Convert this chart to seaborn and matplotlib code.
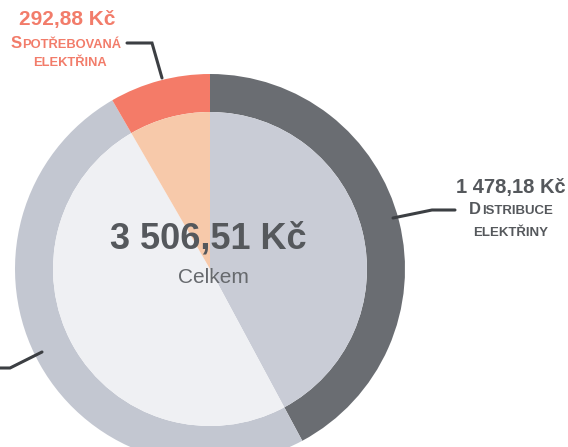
import matplotlib
matplotlib.use("Agg")
import matplotlib.pyplot as plt
import seaborn as sns
from matplotlib.offsetbox import AnnotationBbox, HPacker, TextArea

# amounts in Kč, drawn clockwise from 12 o'clock
parts = ["Distribuce elektřiny", "Ostatní", "Spotřebovaná elektřina"]
amounts = [1478.18, 1735.45, 292.88]
total_label = "3 506,51 Kč"
ring_colors = ["#6a6d72", "#c3c7d1", "#f47b68"]
inner_colors = ["#c9ccd6", "#eff0f3", "#f7c9aa"]

sns.set_theme(style="white")
plt.rcParams["font.family"] = ["Liberation Sans", "DejaVu Sans"]

W, H = 568, 447
fig = plt.figure(figsize=(W / 100, H / 100), dpi=100)
fig.patch.set_facecolor("white")
ax = fig.add_axes([0, 0, 1, 1])

cx, cy = 210, H - 269
r_out, r_in = 195, 157

ax.pie(amounts, colors=ring_colors, startangle=90, counterclock=False,
       radius=r_out, center=(cx, cy), frame=True,
       wedgeprops=dict(width=r_out - r_in, linewidth=0))
ax.pie(amounts, colors=inner_colors, startangle=90, counterclock=False,
       radius=r_in, center=(cx, cy), frame=True,
       wedgeprops=dict(linewidth=0))
ax.set_xlim(0, W)
ax.set_ylim(0, H)
ax.set_aspect("equal")
ax.axis("off")

orange = "#f27c6a"
grey = "#55585c"
line_c = "#3c3f43"


def Y(py):
    return H - py


# centre
ax.text(208, Y(248), total_label, ha="center", va="baseline",
        fontsize=26, fontweight="bold", color=grey)
ax.text(213, Y(283), "Celkem", ha="center", va="baseline",
        fontsize=15, color="#66696d")


def small_caps(x, y, first, rest, big, small, color):
    box = HPacker(children=[
        TextArea(first, textprops=dict(fontsize=big, fontweight="bold", color=color)),
        TextArea(rest, textprops=dict(fontsize=small, fontweight="bold", color=color)),
    ], align="baseline", pad=0, sep=0.5)
    ab = AnnotationBbox(box, (x, y), xycoords="data", frameon=False,
                        box_alignment=(0.5, 0.5), pad=0)
    ax.add_artist(ab)


# spotřebovaná elektřina
ax.text(67, Y(25), "292,88 Kč", ha="center", va="baseline",
        fontsize=15, fontweight="bold", color=orange)
small_caps(66, Y(44), "S", "POTŘEBOVANÁ", 12, 9.3, orange)
ax.text(70, Y(66), "ELEKTŘINA", ha="center", va="baseline",
        fontsize=9.3, fontweight="bold", color=orange)
ax.plot([127, 152, 162], [Y(43), Y(43), Y(78)], color=line_c, lw=2.2,
        solid_joinstyle="miter")

# distribuce elektřiny
ax.text(511, Y(193), "1 478,18 Kč", ha="center", va="baseline",
        fontsize=14.5, fontweight="bold", color=grey)
small_caps(511, Y(209), "D", "ISTRIBUCE", 12, 9.5, grey)
ax.text(511, Y(236), "ELEKTŘINY", ha="center", va="baseline",
        fontsize=9.5, fontweight="bold", color=grey)
ax.plot([455, 432, 393], [Y(210), Y(210), Y(218)], color=line_c, lw=2.2,
        solid_joinstyle="miter")

# third part (label outside the crop)
ax.plot([0, 10, 42], [Y(368), Y(368), Y(352)], color=line_c, lw=2.2,
        solid_joinstyle="miter")

fig.savefig("out.png", dpi=100, facecolor="white")
